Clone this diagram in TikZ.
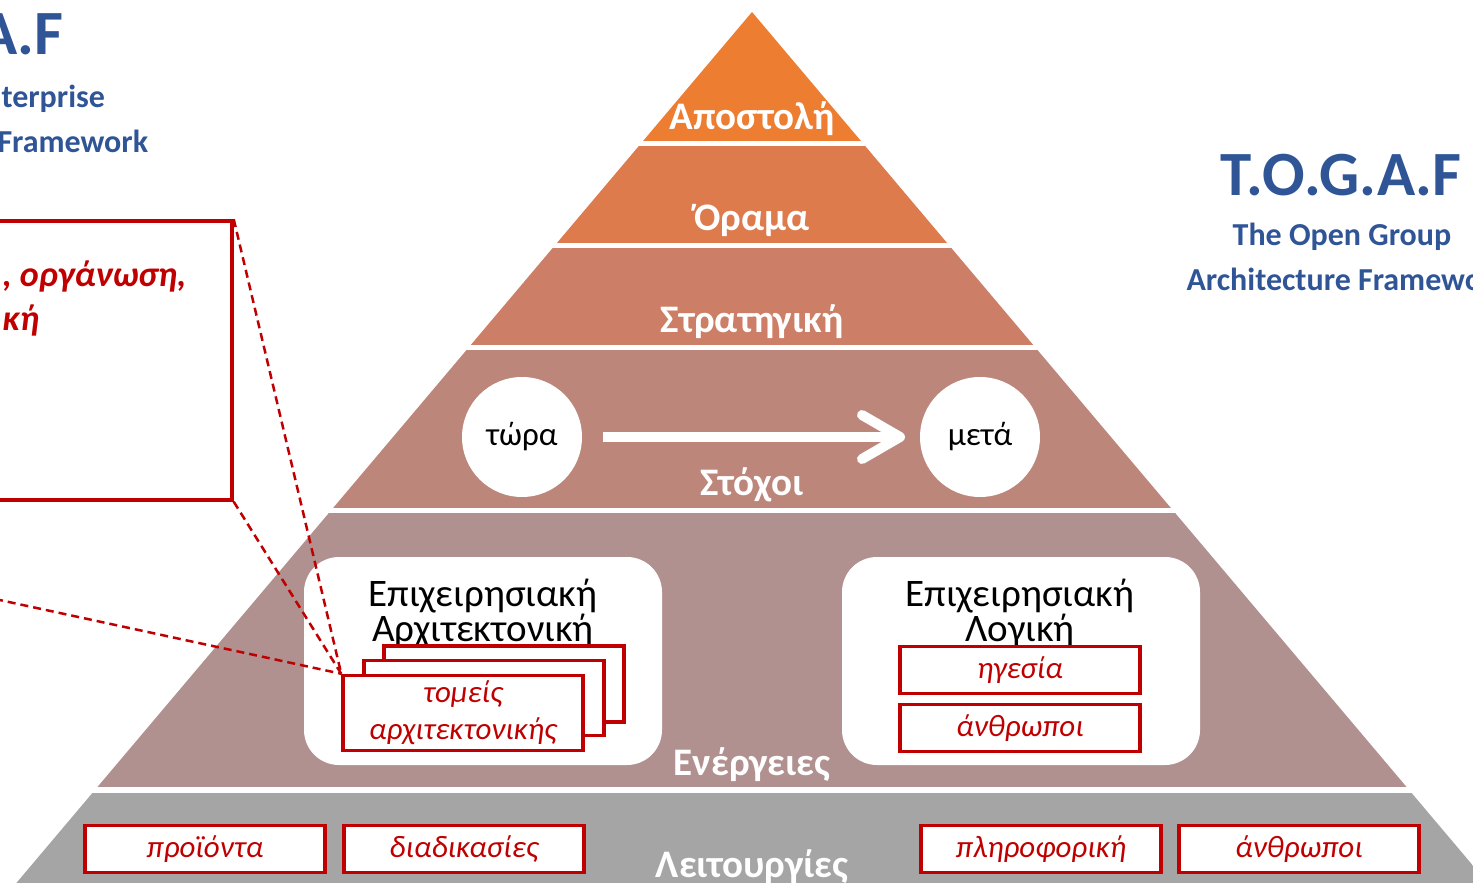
\documentclass[tikz,border=0pt]{standalone}
\usepackage{fontspec}
\setmainfont{Carlito}
\usetikzlibrary{calc}

\definecolor{lvla}{HTML}{ED7D31}
\definecolor{lvlb}{HTML}{DD7B4C}
\definecolor{lvlc}{HTML}{CD7E66}
\definecolor{lvld}{HTML}{BD867B}
\definecolor{lvle}{HTML}{B09190}
\definecolor{lvlf}{HTML}{A5A5A5}
\definecolor{myred}{HTML}{C00000}
\definecolor{myblue}{HTML}{2F5597}

\newcommand{\fsz}[2]{\fontsize{#1}{#2}\selectfont}

\begin{document}
\begin{tikzpicture}[x=1pt,y=-1pt,
	level/.style={text=white,font=\fsz{39}{40}\bfseries,anchor=base},
	whitebox/.style={fill=white,rounded corners=35,minimum width=358,minimum height=208},
	boxtitle/.style={font=\fsz{39}{35}\selectfont,anchor=base,align=center,inner sep=0},
	redbox/.style={draw=myred,line width=3.5,fill=white,minimum width=240,minimum height=47,
		text=myred,font=\fsz{31}{37}\itshape,inner sep=0,align=center},
	stepcircle/.style={circle,fill=white,minimum size=120,font=\fsz{33}{33}},
	logo/.style={text=myblue,font=\fsz{63}{63}\bfseries,anchor=base},
	logosub/.style={text=myblue,font=\fsz{32}{32}\bfseries,anchor=base},
	zoomline/.style={myred,line width=2.5,dash pattern=on 8pt off 5pt}]

	\useasboundingbox (0,0) rectangle (1473,883);
	\clip (0,0) rectangle (1473,883);

	% pyramid bands
	\begin{scope}
		\clip (752,12) -- (2,900) -- (1502,900) -- cycle;
		\foreach \t/\b/\c in {12/141/lvla, 146/243/lvlb, 248/345/lvlc, 350/508/lvld, 513/787/lvle, 793/900/lvlf}
			\fill[\c] (0,\t) rectangle (1473,\b);
	\end{scope}

	\node[level] (mission) at (752,129) {Αποστολή};
	\node[level] (vision) at (752,230) {Όραμα};
	\node[level] (strategy) at (752,332) {Στρατηγική};
	\node[level] (goals) at (752,495) {Στόχοι};
	\node[level] (actions) at (752,775) {Ενέργειες};
	\node[level] (functions) at (752,877) {Λειτουργίες};

	% now -> later
	\node[stepcircle] (now) at (522,437) {τώρα};
	\node[stepcircle] (later) at (980,437) {μετά};
	\coordinate (tip) at (900,437);
	\draw[white,line width=10] (now) ++(81,0) -- ($(tip)+(-4,0)$);
	\draw[white,line width=10,line cap=round,line join=round]
		($(tip)+(-38,-22)$) -- (tip) -- ($(tip)+(-38,22)$);

	% actions
	\node[whitebox] (bizarch) at (483,661) {};
	\node[whitebox] (bizlogic) at (1021,661) {};
	\node[boxtitle] (archtitle) at (483,641) {Επιχειρησιακή\\Αρχιτεκτονική};
	\node[boxtitle] (logictitle) at (1020,641) {Επιχειρησιακή\\Λογική};

	\node[redbox,minimum height=76] (areaback) at (504,684) {};
	\node[redbox,minimum height=75] (areamid) at (484,698) {};
	\node[redbox,minimum height=75] (area) at (463,713) {τομείς\\αρχιτεκτονικής};

	\node[redbox] (lead) at (1020,670) {ηγεσία};
	\node[redbox] (people) at (1020,728) {άνθρωποι};

	% functions
	\node[redbox] (products) at (205,849) {προϊόντα};
	\node[redbox] (processes) at (464,849) {διαδικασίες};
	\node[redbox] (it) at (1041,849) {πληροφορική};
	\node[redbox] (staff) at (1299,849) {άνθρωποι};

	% callout on the left
	\node[draw=myred,line width=3.5,fill=white,minimum width=252,minimum height=279,inner sep=0] (note) at (106,360.5) {};
	\node[text=myred,font=\fsz{36}{36}\bfseries\itshape,anchor=base west] (notea) at (-1,286) {, οργάνωση,};
	\node[text=myred,font=\fsz{36}{36}\bfseries\itshape,anchor=base west] (noteb) at (-1,330) {κή};
	\coordinate (noteend) at (-5,599);
	\draw[zoomline] (note.north east) -- (area.north west);
	\draw[zoomline] (note.south east) -- (area.north west);
	\draw[zoomline] (noteend) -- (area.north west);

	% titles
	\node[logo,anchor=base east] (leftlogo) at (67,55) {A.F};
	\node[logosub,anchor=base west] (leftsub) at (-2,107) {terprise};
	\node[logosub,anchor=base west] (leftsubb) at (-6,152) {Framework};
	\node[logo] (togaf) at (1341,195) {T.O.G.A.F};
	\node[logosub] (togafa) at (1342,245) {The Open Group};
	\node[logosub,anchor=base west] (togafb) at (1183,290) {Architecture Framewo};
\end{tikzpicture}
\end{document}
